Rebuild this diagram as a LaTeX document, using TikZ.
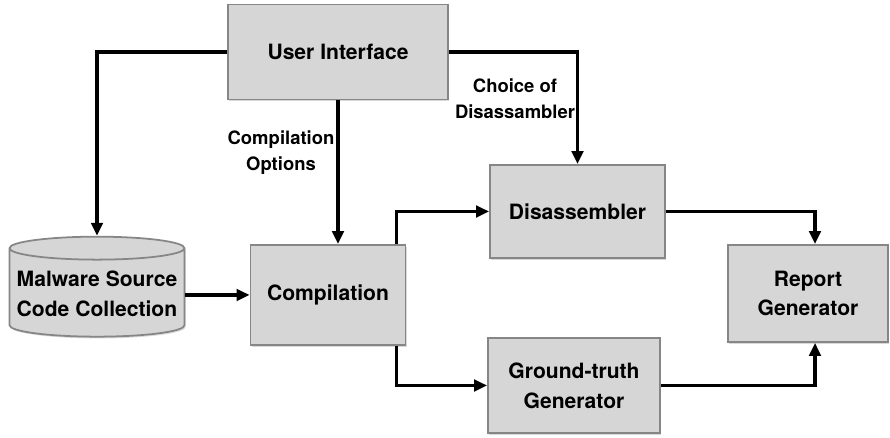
\documentclass[tikz,border=0pt]{standalone}
\usepackage{fontspec}
\setmainfont{TeX Gyre Heros}
\usepackage{tikz}
\usetikzlibrary{
  arrows.meta,
  shapes.geometric,
  positioning,
  calc,
  shadows
}
\definecolor{mwFill}{HTML}{D6D6D6}
\definecolor{mwEdge}{HTML}{868686}
\definecolor{mwLine}{HTML}{000000}
\tikzset{
  mwnode/.style={
    draw=mwEdge, fill=mwFill, line width=1pt, align=center,
    font=\fontsize{12}{17}\selectfont\bfseries,
    drop shadow={opacity=0.3, shadow xshift=0.7pt, shadow yshift=-1pt}
  },
  stage/.style={mwnode, minimum height=1.9cm},
  store/.style={mwnode, cylinder, shape border rotate=90, aspect=0.14,
    minimum width=3.5cm, minimum height=2cm, inner sep=1pt},
  flow/.style={-{Triangle[length=2.6mm, width=2.3mm]}, line width=1.9pt, mwLine},
  note/.style={font=\fontsize{10.5}{15}\selectfont\bfseries, align=center, inner sep=1pt}
}

\begin{document}
\begin{tikzpicture}[node distance=4mm]
  \useasboundingbox (0,0) rectangle (17.8,-8.76);
  % main stages
  \node[stage, minimum width=4.4cm] (ui) at (6.76,-1.04) {User Interface};
  \node[store] (src) at (1.94,-5.88) {Malware Source\\Code Collection};
  \node[stage, minimum width=3.1cm, minimum height=2cm] (comp) at (6.56,-5.9) {Compilation};
  \node[stage, minimum width=3.5cm, minimum height=1.86cm] (dis) at (11.55,-4.23) {Disassembler};
  \node[stage, minimum width=3.44cm] (gt) at (11.48,-7.71) {Ground-truth\\Generator};
  \node[stage, minimum width=3.2cm, minimum height=1.94cm] (rep) at (16.16,-5.87) {Report\\Generator};
  % labels
  \node[note] (opts) at (5.62,-3.05) {Compilation\\Options};
  \node[note] (choice) at (10.3,-1.98) {Choice of\\Disassambler};
  % connectors
  \draw[flow] (ui.west) -| (src.north);
  \draw[flow] (ui.south) -- (ui.south |- comp.north);
  \draw[flow] (ui.east) -| (dis.north);
  \draw[flow] (src.east |- comp.west) -- (comp.west);
  \draw[flow] ($(comp.north east)+(-0.2,0)$) |- (dis.west);
  \draw[flow] ($(comp.south east)+(-0.2,0)$) |- (gt.west);
  \draw[flow] (dis.east) -| ([xshift=0.14cm]rep.north);
  \draw[flow] (gt.east) -| ([xshift=0.14cm]rep.south);
\end{tikzpicture}
\end{document}
